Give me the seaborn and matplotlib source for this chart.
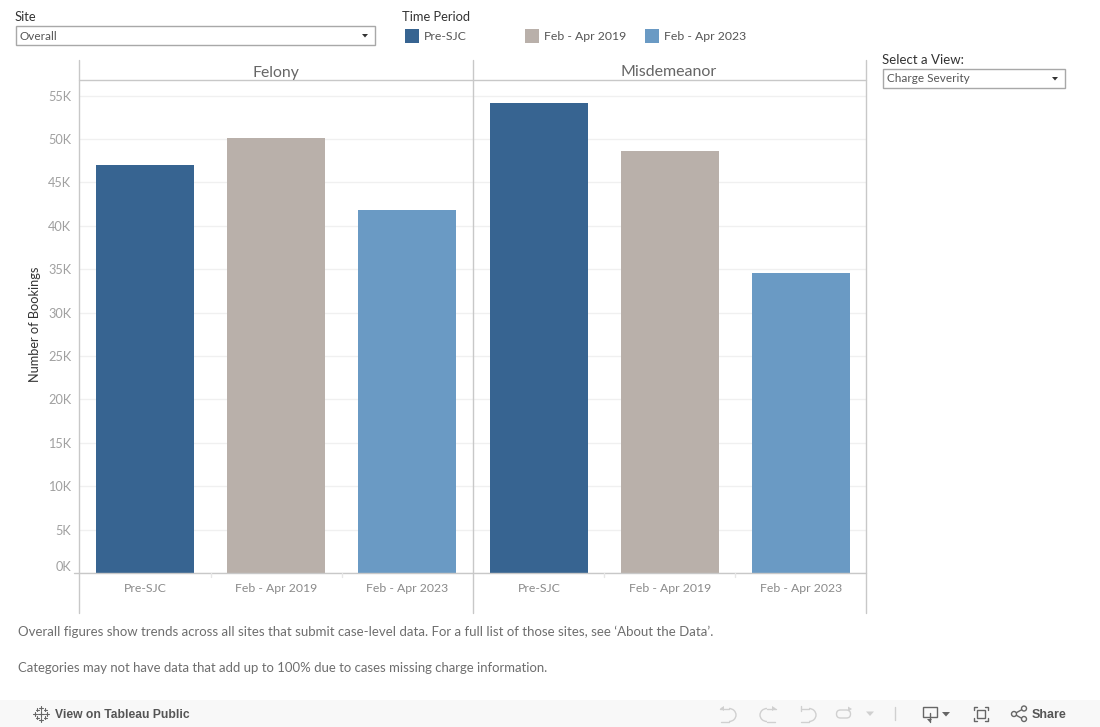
import numpy as np
import pandas as pd
import seaborn as sns
import matplotlib.pyplot as plt
from matplotlib.patches import Rectangle, Arc, Circle, Polygon, FancyBboxPatch

# DATA
periods = ['Pre-SJC', 'Feb - Apr 2019', 'Feb - Apr 2023']
severities = ['Felony', 'Misdemeanor']
felony = [47.0, 50.1, 41.85]
misdemeanor = [54.1, 48.6, 34.6]
y_ticks = [0, 5, 10, 15, 20, 25, 30, 35, 40, 45, 50, 55]
y_labels = ['0K', '5K', '10K', '15K', '20K', '25K', '30K', '35K', '40K', '45K', '50K', '55K']
colors = ['#376491', '#b9b0aa', '#6a9ac4']
note_1 = 'Overall figures show trends across all sites that submit case-level data. For a full list of those sites, see \u2018About the Data\u2019.'
note_2 = 'Categories may not have data that add up to 100% due to cases missing charge information.'

W, H = 1100, 727
LINE = '#c8c8c8'
sns.set_theme(style='white')
plt.rcParams['font.family'] = ['Lato', 'DejaVu Sans']

fig = plt.figure(figsize=(W / 100, H / 100), dpi=100, facecolor='white')


def panel_rect(x0, x1, y0, y1):
    return [x0 / W, 1 - y1 / H, (x1 - x0) / W, (y1 - y0) / H]


df = pd.DataFrame({
    'severity': np.repeat(severities, 3),
    'period': periods * 2,
    'bookings': felony + misdemeanor,
})

panels = [(79.5, 472.5), (473.5, 866.5)]
for (x0, x1), sev in zip(panels, severities):
    ax = fig.add_axes(panel_rect(x0, x1, 80.5, 573))
    sns.barplot(data=df[df['severity'] == sev], x='period', y='bookings', hue='period',
                order=periods, hue_order=periods, palette=colors, saturation=1,
                width=0.745, legend=False, ax=ax, zorder=3, linewidth=0)
    ax.set_xlim(-0.5, 2.5)
    ax.set_ylim(0, (573 - 80.5) / 8.68)
    ax.set_yticks(y_ticks)
    ax.grid(axis='y', color='#f0f0f0', linewidth=1, zorder=0)
    ax.set_axisbelow(True)
    ax.set_xlabel('')
    ax.set_ylabel('')
    ax.tick_params(axis='x', length=0, pad=7, labelsize=8.8, labelcolor='#8a8a8a')
    sns.despine(ax=ax, left=True, bottom=True)
    if sev == 'Felony':
        ax.set_yticklabels(y_labels)
        ax.tick_params(axis='y', length=0, pad=6, labelsize=9.2, labelcolor='#a0a0a0')
        ax.get_yticklabels()[0].set_verticalalignment('bottom')
    else:
        ax.tick_params(axis='y', left=False, labelleft=False)

# overlay in pixel coordinates for the dashboard furniture
ov = fig.add_axes([0, 0, 1, 1], zorder=10)
ov.set_xlim(0, W)
ov.set_ylim(H, 0)
ov.axis('off')
ov.patch.set_alpha(0)

# frame lines
for x in (79, 473, 866):
    ov.plot([x, x], [60, 613], color=LINE, lw=1)
ov.plot([79, 866], [80, 80], color=LINE, lw=1)
ov.plot([74, 866], [573, 573], color=LINE, lw=1)
for x in (211, 342, 604, 735):
    ov.plot([x, x], [573, 577], color='#e6e6e6', lw=1)
ov.text(275.5, 72.5, 'Felony', fontsize=11.3, color='#666666', ha='center', va='center')
ov.text(669, 72.5, 'Misdemeanor', fontsize=11.5, color='#666666', ha='center', va='center')
ov.text(35, 324.5, 'Number of Bookings', fontsize=9.2, color='#333333', rotation=90, ha='center', va='center')


def dropdown(x0, y0, x1, y1, label):
    ov.add_patch(Rectangle((x0, y0), x1 - x0, y1 - y0, fc='white', ec='#a8a8a8', lw=1))
    ov.text(x0 + 4, (y0 + y1) / 2 + 0.5, label, fontsize=8.5, color='#555555', va='center')
    ax_ = x1 - 10
    ym = (y0 + y1) / 2
    ov.add_patch(Polygon([(ax_ - 3, ym - 1.5), (ax_ + 3, ym - 1.5), (ax_, ym + 2)], fc='#333333', ec='none'))


ov.text(15, 17, 'Site', fontsize=9.3, color='#333333', va='center')
dropdown(16, 26, 375, 45, 'Overall')
ov.text(402, 17, 'Time Period', fontsize=9.3, color='#333333', va='center')
ov.text(882, 60, 'Select a View:', fontsize=9.5, color='#333333', va='center')
dropdown(883, 69, 1065, 88, 'Charge Severity')

# legend
for x, c, label, tx in zip((405, 525, 645), colors, periods, (424, 544.5, 664)):
    ov.add_patch(Rectangle((x, 29), 14, 14, fc=c, ec='none'))
    ov.text(tx, 36.5, label, fontsize=8.8, color='#555555', va='center')

# notes
ov.text(18, 632, note_1, fontsize=9.53, color='#6e6e6e', va='center')
ov.text(18, 668, note_2, fontsize=9.42, color='#6e6e6e', va='center')

# toolbar
ov.add_patch(Rectangle((0, 700), W, 27, fc='#f8f8f8', ec='none'))
ov.text(55, 714.5, 'View on Tableau Public', fontsize=8.7, color='#555555', va='center', fontweight='bold',
        family=['Liberation Sans', 'DejaVu Sans'])
ov.text(1032, 714.5, 'Share', fontsize=9, color='#555555', va='center', fontweight='bold',
        family=['Liberation Sans', 'DejaVu Sans'])

# tableau mark
for dx, dy, s in [(0, 0, 3), (-6, 0, 2), (6, 0, 2), (0, -6, 2), (0, 6, 2), (-4, -4, 1.5), (4, -4, 1.5), (-4, 4, 1.5), (4, 4, 1.5)]:
    ov.plot([41 + dx - s, 41 + dx + s], [713.5 + dy, 713.5 + dy], color='#666666', lw=0.8)
    ov.plot([41 + dx, 41 + dx], [713.5 + dy - s, 713.5 + dy + s], color='#666666', lw=0.8)

# undo / redo icons
ic = '#d0d0d0'
ov.add_patch(Arc((729, 715), 14, 13, theta1=270, theta2=90, color=ic, lw=1))
ov.plot([720, 729], [708.5, 708.5], color=ic, lw=1)
ov.plot([721, 729], [721.5, 721.5], color=ic, lw=1)
ov.add_patch(Polygon([(720, 708.5), (724, 706), (724, 711)], fc=ic, ec='none'))
ov.add_patch(Arc((767, 715), 14, 13, theta1=90, theta2=270, color=ic, lw=1))
ov.plot([767, 776], [708.5, 708.5], color=ic, lw=1)
ov.plot([767, 775], [721.5, 721.5], color=ic, lw=1)
ov.add_patch(Polygon([(776, 708.5), (772, 706), (772, 711)], fc=ic, ec='none'))
ov.add_patch(Arc((809, 715), 14, 13, theta1=270, theta2=90, color=ic, lw=1))
ov.plot([802, 809], [708.5, 708.5], color=ic, lw=1)
ov.plot([801, 809], [721.5, 721.5], color=ic, lw=1)
ov.plot([800.5, 800.5], [706, 711], color=ic, lw=1)
ov.add_patch(FancyBboxPatch((836.5, 710), 14, 8, boxstyle='round,pad=0,rounding_size=4', fc='none', ec=ic, lw=1))
ov.add_patch(Polygon([(852, 709), (848, 706.5), (848, 711.5)], fc=ic, ec='none'))
ov.add_patch(Polygon([(866, 711.5), (874, 711.5), (870, 716)], fc=ic, ec='none'))
ov.plot([895, 895], [707, 720], color=ic, lw=1)

# download / fullscreen / share
dk = '#666666'
ov.add_patch(Rectangle((922.5, 707), 14, 10, fc='none', ec=dk, lw=1))
ov.plot([929.5, 929.5], [713, 722], color=dk, lw=1)
ov.add_patch(Polygon([(927, 719), (932, 719), (929.5, 722)], fc=dk, ec='none'))
ov.add_patch(Polygon([(942, 712), (950, 712), (946, 716.5)], fc=dk, ec='none'))
ov.add_patch(Rectangle((977, 710), 8, 8, fc='none', ec=dk, lw=1))
for xs, ys in [([974, 974, 977], [710, 707, 707]), ([985, 988, 988], [707, 707, 710]),
               ([974, 974, 977], [718, 721, 721]), ([985, 988, 988], [721, 721, 718])]:
    ov.plot(xs, ys, color=dk, lw=1)
ov.plot([1014, 1023], [714, 709], color=dk, lw=1)
ov.plot([1014, 1023], [714, 719], color=dk, lw=1)
for c in [(1014, 714), (1024, 708.5), (1024, 719)]:
    ov.add_patch(Circle(c, 2.5, fc='#f8f8f8', ec=dk, lw=1, zorder=5))

fig.savefig('out.png', dpi=100)
